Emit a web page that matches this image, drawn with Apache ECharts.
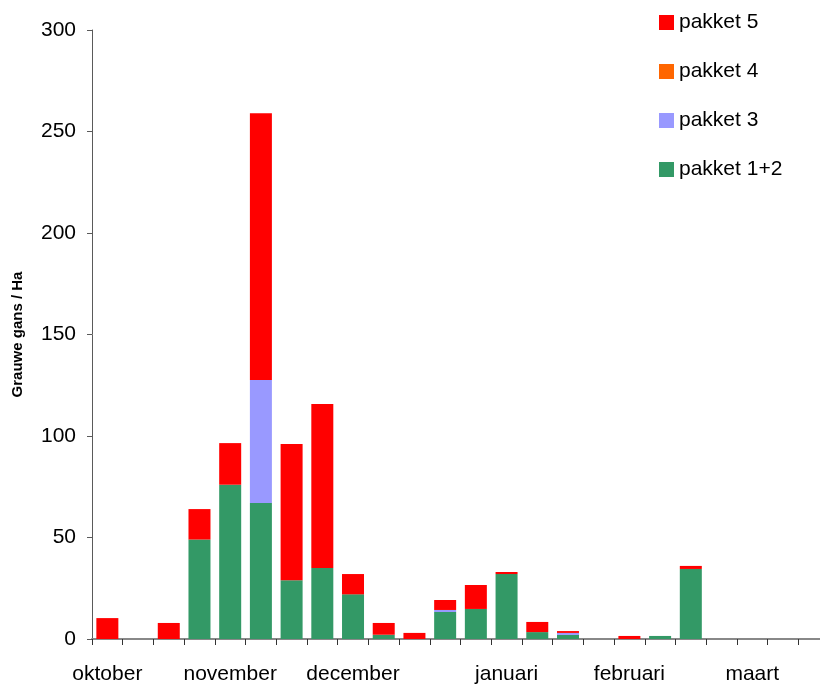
<!DOCTYPE html>
<html>
<head>
<meta charset="utf-8">
<script src="https://cdn.jsdelivr.net/npm/echarts@6/dist/echarts.min.js"></script>
<style>
html,body{margin:0;padding:0;background:#fff;}
#chart{width:820px;height:687px;}
</style>
</head>
<body>
<div id="chart"></div>
<script>
// 24 half-month periods, October through March
var categories = ['p1','p2','p3','p4','p5','p6','p7','p8','p9','p10','p11','p12','p13','p14','p15','p16','p17','p18','p19','p20','p21','p22','p23','p24'];
var monthLabels = ['oktober','','','','november','','','','december','','','','','januari','','','','februari','','','','maart','',''];
var pakket12 = [0,0,0,49,76,67,29,35,22,2.1,0,13.3,14.8,32,3.4,2,0,0,1.5,34.5,0,0,0,0];
var pakket3  = [0,0,0,0,0,60.6,0,0,0,0,0,1,0,0,0,1,0,0,0,0,0,0,0,0];
var pakket4  = [0,0,0,0,0,0,0,0,0,0,0,0,0,0,0,0,0,0,0,0,0,0,0,0];
var pakket5  = [10.3,0,7.9,15,20.5,131.4,67,80.8,10,5.8,3,4.9,11.8,1,5,0.9,0,1.5,0,1.5,0,0,0,0];
var yTicks = [0,50,100,150,200,250,300];

var font = 'Liberation Sans, Arial, sans-serif';
var chart = echarts.init(document.getElementById('chart'), null, {renderer:'canvas'});
chart.setOption({
  animation: false,
  backgroundColor: '#ffffff',
  textStyle: {fontFamily: font},
  grid: {left: 92, right: -9, top: 30, bottom: 48, containLabel: false, outerBoundsMode: 'none'},
  legend: {
    orient: 'vertical',
    left: 659,
    top: 12,
    padding: 0,
    itemWidth: 15,
    itemHeight: 15,
    itemGap: 28,
    itemTextGap: 6,
    icon: 'rect',
    data: ['pakket 5','pakket 4','pakket 3','pakket 1+2'],
    textStyle: {fontFamily: font, fontSize: 21, color: '#000', lineHeight: 21, padding: [0,0,0,0]},
    itemStyle: {borderWidth: 0}
  },
  xAxis: {
    type: 'category',
    data: categories,
    boundaryGap: true,
    axisLine: {lineStyle: {color: '#888', width: 2}},
    axisTick: {show: true, interval: 0, length: 6, lineStyle: {color: '#333', width: 1}},
    axisLabel: {
      interval: 0,
      margin: 25,
      fontFamily: font,
      fontSize: 21,
      color: '#000',
      formatter: function (v, i) { return monthLabels[i]; }
    },
    splitLine: {show: false}
  },
  yAxis: {
    type: 'value',
    min: yTicks[0],
    max: yTicks[yTicks.length - 1],
    interval: 50,
    name: 'Grauwe gans / Ha',
    nameLocation: 'middle',
    nameRotate: 90,
    nameGap: 67,
    nameTextStyle: {fontFamily: font, fontSize: 15, fontWeight: 'bold', color: '#000'},
    axisLine: {show: true, lineStyle: {color: '#5a5a5a', width: 1}},
    axisTick: {show: true, length: 5, lineStyle: {color: '#5a5a5a', width: 1}},
    axisLabel: {margin: 16, fontFamily: font, fontSize: 21, color: '#000'},
    splitLine: {show: false}
  },
  series: [
    {name: 'pakket 1+2', type: 'bar', stack: 'total', data: pakket12, barWidth: 22, itemStyle: {color: '#339966'}},
    {name: 'pakket 3', type: 'bar', stack: 'total', data: pakket3, barWidth: 22, itemStyle: {color: '#9999FF'}},
    {name: 'pakket 4', type: 'bar', stack: 'total', data: pakket4, barWidth: 22, itemStyle: {color: '#FF6600'}},
    {name: 'pakket 5', type: 'bar', stack: 'total', data: pakket5, barWidth: 22, itemStyle: {color: '#FF0000'}}
  ]
});
</script>
</body>
</html>
